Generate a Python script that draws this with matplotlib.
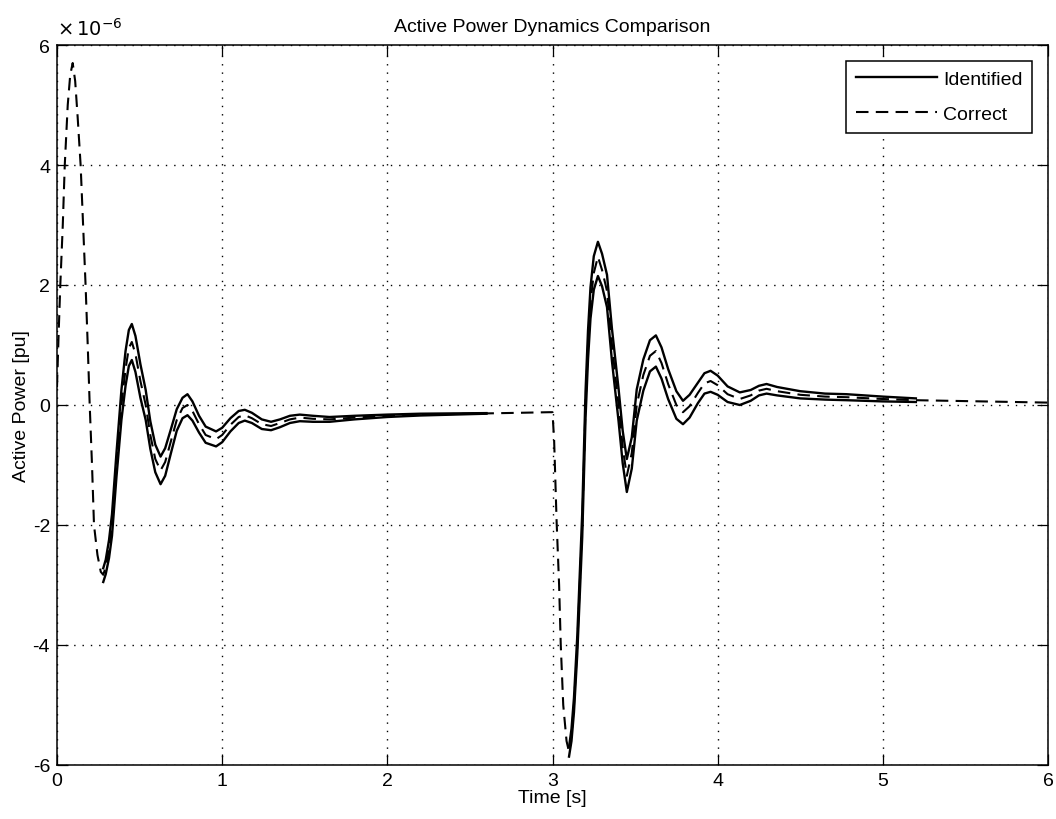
import matplotlib
matplotlib.use("Agg")
import matplotlib.pyplot as plt

plt.rcParams['font.family'] = ['Liberation Sans', 'DejaVu Sans']

# ---- data (power in units of 1e-6 pu) ----
t_correct = [0.00, 0.01, 0.02, 0.035, 0.047, 0.065, 0.08, 0.095, 0.11, 0.125, 0.143, 0.158,
             0.173, 0.186, 0.198, 0.212, 0.224, 0.245, 0.265, 0.28, 0.295, 0.315, 0.333,
             0.36, 0.39, 0.415, 0.435, 0.453, 0.475, 0.505, 0.537, 0.565, 0.595, 0.627,
             0.655, 0.69, 0.725, 0.76, 0.79, 0.82, 0.86, 0.9, 0.963, 1.0, 1.05, 1.1, 1.137,
             1.18, 1.24, 1.296, 1.35, 1.41, 1.47, 1.55, 1.65, 1.8, 2.0, 2.2, 2.4, 2.6, 2.8,
             2.98, 3.0, 3.01, 3.025, 3.04, 3.05, 3.065, 3.085, 3.1, 3.115, 3.13, 3.15, 3.165,
             3.18, 3.19, 3.2, 3.215, 3.23, 3.25, 3.275, 3.3, 3.33, 3.36, 3.4, 3.425, 3.45,
             3.48, 3.51, 3.55, 3.59, 3.626, 3.66, 3.7, 3.75, 3.79, 3.83, 3.88, 3.92, 3.957,
             4.0, 4.06, 4.134, 4.2, 4.25, 4.296, 4.36, 4.5, 4.65, 4.78, 5.0, 5.2, 5.4, 5.6,
             5.8, 6.0]
p_correct = [0.3, 1.2, 2.0, 3.0, 4.0, 5.0, 5.5, 5.7, 5.4, 4.8, 4.0, 3.0,
             2.0, 1.0, 0.0, -1.0, -2.0, -2.5, -2.78, -2.83, -2.7, -2.4, -2.0,
             -1.0, 0.0, 0.6, 0.95, 1.05, 0.85, 0.4, 0.0, -0.5, -0.9, -1.09,
             -0.95, -0.6, -0.25, -0.05, 0.0, -0.1, -0.32, -0.5, -0.57, -0.5, -0.33, -0.2, -0.17,
             -0.22, -0.32, -0.35, -0.3, -0.24, -0.21, -0.23, -0.24, -0.21, -0.18, -0.16, -0.15, -0.14, -0.13,
             -0.12, -0.12, -0.6, -1.95, -3.0, -4.0, -5.0, -5.6, -5.78, -5.5, -5.0, -4.0, -3.0,
             -2.0, -1.0, 0.0, 1.0, 1.7, 2.2, 2.47, 2.25, 1.9, 1.0, 0.0, -0.7, -1.18,
             -0.8, 0.0, 0.5, 0.82, 0.9, 0.7, 0.35, 0.0, -0.12, -0.02, 0.2, 0.36, 0.4,
             0.33, 0.18, 0.1, 0.16, 0.24, 0.27, 0.23, 0.17, 0.14, 0.13, 0.1, 0.08, 0.07, 0.06,
             0.05, 0.04]

# identified responses: first disturbance
t_ident_1 = [0.28, 0.295, 0.315, 0.333, 0.36, 0.39, 0.415, 0.435, 0.453, 0.475, 0.505, 0.537,
             0.565, 0.595, 0.627, 0.655, 0.69, 0.725, 0.76, 0.79, 0.82, 0.86, 0.9, 0.963,
             1.0, 1.05, 1.1, 1.137, 1.18, 1.24, 1.296, 1.35, 1.41, 1.47, 1.55, 1.65, 1.8,
             2.0, 2.2, 2.4, 2.6]
p_ident_hi_1 = [-2.72, -2.58, -2.25, -1.82, -0.8, 0.25, 0.9, 1.25, 1.35, 1.15, 0.68, 0.25,
                -0.27, -0.66, -0.86, -0.72, -0.4, -0.07, 0.12, 0.18, 0.06, -0.18, -0.36, -0.44,
                -0.38, -0.22, -0.1, -0.08, -0.13, -0.24, -0.28, -0.24, -0.18, -0.16, -0.18, -0.2, -0.18,
                -0.16, -0.145, -0.14, -0.135]
p_ident_lo_1 = [-2.95, -2.82, -2.55, -2.18, -1.2, -0.25, 0.32, 0.65, 0.75, 0.55, 0.12, -0.25,
                -0.73, -1.12, -1.32, -1.18, -0.8, -0.43, -0.22, -0.17, -0.26, -0.46, -0.63, -0.69,
                -0.62, -0.44, -0.3, -0.26, -0.3, -0.4, -0.42, -0.37, -0.3, -0.27, -0.28, -0.28, -0.24,
                -0.2, -0.175, -0.16, -0.145]

# identified responses: second disturbance
t_ident_2 = [3.1, 3.115, 3.13, 3.15, 3.165, 3.18, 3.19, 3.2, 3.215, 3.23, 3.25, 3.275, 3.3,
             3.33, 3.36, 3.4, 3.425, 3.45, 3.48, 3.51, 3.55, 3.59, 3.626, 3.66, 3.7, 3.75,
             3.79, 3.83, 3.88, 3.92, 3.957, 4.0, 4.06, 4.134, 4.2, 4.25, 4.296, 4.36, 4.5,
             4.65, 4.78, 5.0, 5.2]
p_ident_hi_2 = [-5.7, -5.4, -4.88, -3.85, -2.82, -1.8, -0.78, 0.22, 1.24, 1.96, 2.48, 2.72, 2.52,
                2.17, 1.27, 0.27, -0.43, -0.9, -0.54, 0.26, 0.76, 1.08, 1.16, 0.96, 0.6, 0.23,
                0.07, 0.17, 0.37, 0.53, 0.57, 0.49, 0.31, 0.21, 0.25, 0.32, 0.35, 0.3, 0.23,
                0.19, 0.18, 0.14, 0.11]
p_ident_lo_2 = [-5.86, -5.6, -5.12, -4.15, -3.18, -2.2, -1.22, -0.22, 0.76, 1.44, 1.92, 2.15, 1.98,
                1.63, 0.73, -0.27, -0.97, -1.45, -1.06, -0.26, 0.24, 0.56, 0.64, 0.44, 0.1, -0.23,
                -0.32, -0.21, 0.03, 0.19, 0.22, 0.17, 0.05, 0.0, 0.07, 0.16, 0.19, 0.16, 0.11,
                0.09, 0.08, 0.06, 0.05]

x_ticks = [0, 1, 2, 3, 4, 5, 6]
y_ticks = [-6, -4, -2, 0, 2, 4, 6]

# ---- figure ----
FS = 14
fig = plt.figure(figsize=(10.56, 8.2), dpi=100)
ax = fig.add_axes([57/1056, 1 - 766/820, (1048 - 57)/1056, (766 - 46)/820])

lw = 1.7
ax.plot(t_ident_1, p_ident_hi_1, color='black', lw=lw, solid_joinstyle='round', label='Identified')
ax.plot(t_ident_1, p_ident_lo_1, color='black', lw=lw, solid_joinstyle='round')
ax.plot(t_ident_2, p_ident_hi_2, color='black', lw=lw, solid_joinstyle='round')
ax.plot(t_ident_2, p_ident_lo_2, color='black', lw=lw, solid_joinstyle='round')
ax.plot(t_correct, p_correct, color='black', lw=1.5, linestyle=(0, (6, 3.5)), label='Correct')

ax.set_xlim(0, 6)
ax.set_ylim(-6, 6)
ax.set_xticks(x_ticks)
ax.set_yticks(y_ticks)
ax.set_xticklabels([str(v) for v in x_ticks])
ax.set_yticklabels([str(v) for v in y_ticks])
ax.tick_params(direction='in', length=8, width=0.9, top=True, right=True, labelsize=FS, pad=5)
ax.grid(True, color='black', linestyle=(0, (1, 5)), linewidth=1.0)
for s in ax.spines.values():
    s.set_linewidth(1.1)

ax.set_title('Active Power Dynamics Comparison', fontsize=FS, pad=10)
ax.set_xlabel('Time [s]', fontsize=FS, labelpad=0)
ax.set_ylabel('Active Power [pu]', fontsize=FS, labelpad=2)
ax.text(0.0, 1.008, r'$\times\,10^{-6}$', transform=ax.transAxes, fontsize=FS,
        ha='left', va='bottom')

leg = ax.legend(loc='upper right', fontsize=FS, fancybox=False, framealpha=1,
                edgecolor='black', handlelength=4.2, borderaxespad=0.8, labelspacing=0.9,
                handletextpad=0.3, borderpad=0.5)
leg.get_frame().set_linewidth(1.1)

fig.savefig('out.png', dpi=100)
